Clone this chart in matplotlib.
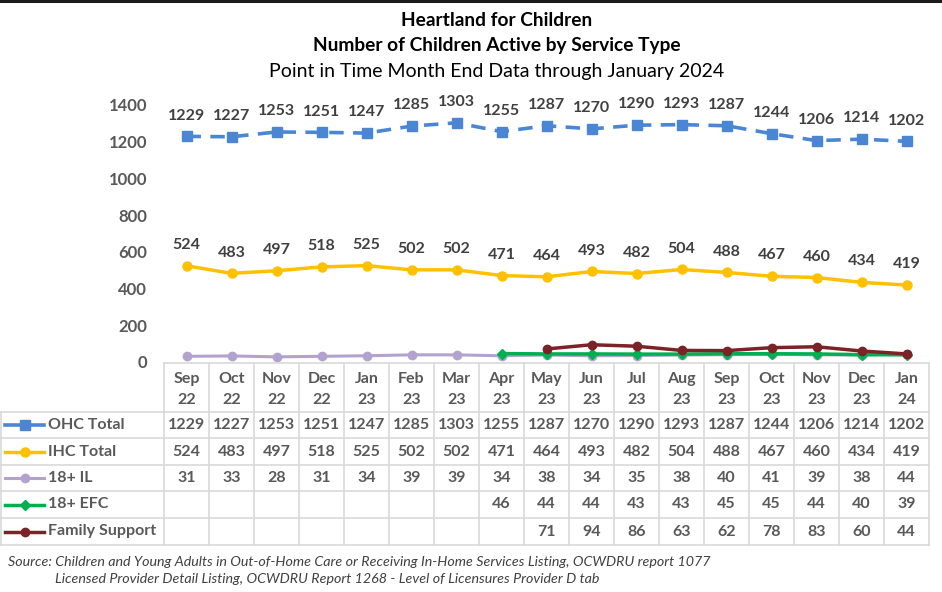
import numpy as np
import matplotlib
matplotlib.use("Agg")
import matplotlib.pyplot as plt
from matplotlib.lines import Line2D

plt.rcParams['font.family'] = ['Lato', 'DejaVu Sans']

# data
months = ["Sep\n22", "Oct\n22", "Nov\n22", "Dec\n22", "Jan\n23", "Feb\n23", "Mar\n23",
          "Apr\n23", "May\n23", "Jun\n23", "Jul\n23", "Aug\n23", "Sep\n23", "Oct\n23",
          "Nov\n23", "Dec\n23", "Jan\n24"]
ohc_total = [1229, 1227, 1253, 1251, 1247, 1285, 1303, 1255, 1287, 1270, 1290, 1293, 1287, 1244, 1206, 1214, 1202]
ihc_total = [524, 483, 497, 518, 525, 502, 502, 471, 464, 493, 482, 504, 488, 467, 460, 434, 419]
il_18 = [31, 33, 28, 31, 34, 39, 39, 34, 38, 34, 35, 38, 40, 41, 39, 38, 44]
efc_18 = [np.nan] * 7 + [46, 44, 44, 43, 43, 45, 45, 44, 40, 39]
family_support = [np.nan] * 8 + [71, 94, 86, 63, 62, 78, 83, 60, 44]

series = [
    ("OHC Total", ohc_total, dict(color="#4A86D3", lw=2.6, ls=(0, (4, 2.6)), marker="s", ms=6.5)),
    ("IHC Total", ihc_total, dict(color="#FFC000", lw=2.5, ls="-", marker="o", ms=6.5)),
    ("18+ IL", il_18, dict(color="#B3A2CE", lw=2.2, ls="-", marker="o", ms=6)),
    ("18+ EFC", efc_18, dict(color="#00B050", lw=2.5, ls="-", marker="D", ms=4.8)),
    ("Family Support", family_support, dict(color="#7B2326", lw=2.5, ls="-", marker="o", ms=6)),
]

W, H = 942, 592
fig = plt.figure(figsize=(W / 100, H / 100), dpi=100)

def fx(px):
    return px / W

def fy(py):
    return 1 - py / H

# plot area in pixels
x_left, x_right = 164, 929
y_zero = 362
px_per_unit = 257 / 1400
y_bot_px, y_top_px = 363, 100
ylo = -(y_bot_px - y_zero) / px_per_unit
yhi = (y_zero - y_top_px) / px_per_unit

ax = fig.add_axes([fx(x_left), fy(y_bot_px), fx(x_right - x_left), (y_bot_px - y_top_px) / H])
n = len(months)
x = np.arange(n)
ax.set_xlim(-0.5, n - 0.5)
ax.set_ylim(ylo, yhi)
for s in ax.spines.values():
    s.set_visible(False)
ax.set_xticks([])
ax.set_yticks(np.arange(0, 1401, 200))
ax.tick_params(axis="y", length=0, pad=12, labelsize=12, labelcolor="#595959")
for lbl in ax.get_yticklabels():
    lbl.set_fontweight("bold")

for name, vals, st in series:
    ax.plot(x, vals, color=st["color"], lw=st["lw"], ls=st["ls"], marker=st["marker"],
            ms=st["ms"], mec=st["color"], mfc=st["color"], clip_on=False, zorder=3)

for vals in (ohc_total, ihc_total):
    for i, v in enumerate(vals):
        ax.annotate(str(v), (i, v), xytext=(0, 15), textcoords="offset points",
                    ha="center", va="center", fontsize=11.5, fontweight="bold", color="#404040")

# titles
tcx = fx(497)
fig.text(tcx, fy(20), "Heartland for Children", ha="center", va="center",
         fontsize=13.8, fontweight="bold", color="black")
fig.text(tcx, fy(46), "Number of Children Active by Service Type", ha="center", va="center",
         fontsize=13.8, fontweight="bold", color="black")
fig.text(tcx, fy(72), "Point in Time Month End Data through January 2024", ha="center", va="center",
         fontsize=14, color="black")

# top black border
fig.add_artist(Line2D([0, 1], [fy(1), fy(1)], color="#1a1a1a", lw=2.2))

# data table
grid_c = "#D9D9D9"
col_w = (x_right - x_left) / n
row_tops = [363, 412, 438, 465, 491, 518, 545]

def hline(py, x0, x1):
    fig.add_artist(Line2D([fx(x0), fx(x1)], [fy(py), fy(py)], color=grid_c, lw=1.2))

def vline(px, y0, y1):
    fig.add_artist(Line2D([fx(px), fx(px)], [fy(y0), fy(y1)], color=grid_c, lw=1.2))

hline(row_tops[0], x_left, x_right)
for py in row_tops[1:]:
    hline(py, 1, x_right)
for i in range(n + 1):
    vline(x_left + i * col_w, row_tops[0], row_tops[-1])
vline(1, row_tops[1], row_tops[-1])

txt_c = "#595959"
for i, m in enumerate(months):
    cx = x_left + (i + 0.5) * col_w
    top, bottom = m.split("\n")
    fig.text(fx(cx), fy(379), top, ha="center", va="center", fontsize=11.5,
             fontweight="bold", color=txt_c)
    fig.text(fx(cx), fy(400), bottom, ha="center", va="center", fontsize=11.5,
             fontweight="bold", color=txt_c)

for r, (name, vals, st) in enumerate(series):
    cy = (row_tops[r + 1] + row_tops[r + 2]) / 2
    fig.add_artist(Line2D([fx(5), fx(44)], [fy(cy), fy(cy)], color=st["color"], lw=st["lw"], ls="-"))
    fig.add_artist(Line2D([fx(24.5)], [fy(cy)], color=st["color"], marker=st["marker"],
                          ms=st["ms"], mec=st["color"], mfc=st["color"], ls="none"))
    fig.text(fx(48), fy(cy), name, ha="left", va="center", fontsize=11.5,
             fontweight="bold", color=txt_c)
    for i, v in enumerate(vals):
        if np.isnan(v):
            continue
        cx = x_left + (i + 0.5) * col_w
        fig.text(fx(cx), fy(cy), str(int(v)), ha="center", va="center", fontsize=11.5,
                 fontweight="bold", color=txt_c)

# source note
fig.text(fx(8), fy(562), "Source: Children and Young Adults in Out-of-Home Care or Receiving In-Home Services Listing, OCWDRU report 1077",
         ha="left", va="center", fontsize=10.3, style="italic", color="#404040")
fig.text(fx(55), fy(579), "Licensed Provider Detail Listing, OCWDRU Report 1268 - Level of Licensures Provider D tab",
         ha="left", va="center", fontsize=10.3, style="italic", color="#404040")

fig.savefig("out.png", dpi=100)
